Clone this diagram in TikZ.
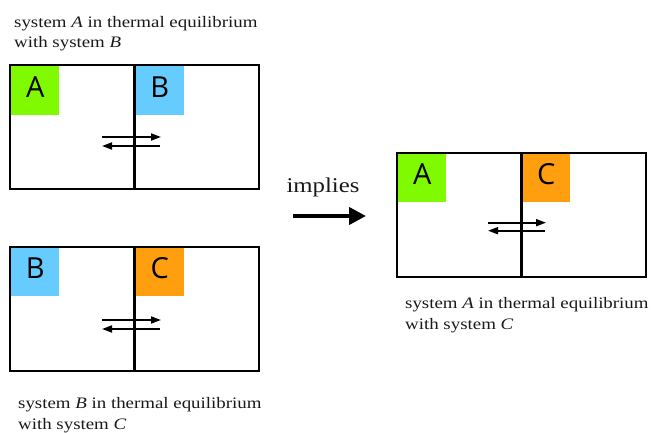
\documentclass[tikz,border=0pt]{standalone}
\usepackage{fontspec}
\setmainfont{Liberation Serif}[FakeStretch=1.18]
\newfontfamily\boxfont{Open Sans}
\usetikzlibrary{arrows.meta}
\definecolor{sysgreen}{RGB}{128,250,0}
\definecolor{sysblue}{RGB}{102,204,255}
\definecolor{sysorange}{RGB}{255,158,14}
\definecolor{txt}{RGB}{25,25,25}
\tikzset{
  sysbox/.style={draw=black, line width=2pt, minimum width=249pt, minimum height=124pt, inner sep=0pt},
  divider/.style={line width=2.4pt},
  tag/.style={minimum width=50pt, minimum height=50pt, inner sep=0pt},
  letter/.style={inner sep=0pt, text depth=0pt, font=\boxfont\fontsize{29}{29}\selectfont, text=black},
  flow/.style={line width=1.8pt, -{Triangle[length=10pt,width=7pt]}},
  caption/.style={font=\fontsize{16}{20.5}\selectfont, text=txt, align=left, anchor=base west, inner sep=0pt},
  bigarrow/.style={line width=4pt, -{Triangle[length=17pt,width=17pt]}}
}
\begin{document}
\begin{tikzpicture}[x=1pt,y=-1pt]
\useasboundingbox (0,0) rectangle (651,433);
% captions (anchored at the baseline of the second line)
\node[caption] (cap1) at (14,47.7) {system \textit{A} in thermal equilibrium\\with system \textit{B}};
\node[caption] (cap2) at (18,429) {system \textit{B} in thermal equilibrium\\with system \textit{C}};
\node[caption] (cap3) at (405,329) {system \textit{A} in thermal equilibrium\\with system \textit{C}};
% box 1
\node[tag, fill=sysgreen, anchor=north west] (a1) at (9,64.5) {};
\node[tag, fill=sysblue, anchor=north west] (b1) at (133.5,64.5) {};
\node[letter] (la1) at ([xshift=1pt,yshift=3pt]a1.center) {A};
\node[letter] (lb1) at ([xshift=1pt,yshift=3pt]b1.center) {B};
\node[sysbox, anchor=north west] (box1) at (9,64.5) {};
\draw[divider] (box1.north) -- (box1.south);
\coordinate (f1s) at (102,137); \coordinate (f1e) at (161,137);
\coordinate (r1s) at (160,146); \coordinate (r1e) at (102,146);
\draw[flow] (f1s) -- (f1e);
\draw[flow] (r1s) -- (r1e);
% box 2
\node[tag, fill=sysblue, anchor=north west] (b2) at (9,246) {};
\node[tag, fill=sysorange, anchor=north west] (c2) at (133.5,246) {};
\node[letter] (lb2) at ([xshift=1pt,yshift=3pt]b2.center) {B};
\node[letter] (lc2) at ([xshift=1pt,yshift=3pt]c2.center) {C};
\node[sysbox, anchor=north west] (box2) at (9,246) {};
\draw[divider] (box2.north) -- (box2.south);
\coordinate (f2s) at (102,320); \coordinate (f2e) at (161,320);
\coordinate (r2s) at (160,329); \coordinate (r2e) at (102,329);
\draw[flow] (f2s) -- (f2e);
\draw[flow] (r2s) -- (r2e);
% box 3
\node[tag, fill=sysgreen, anchor=north west] (a3) at (396,152.3) {};
\node[tag, fill=sysorange, anchor=north west] (c3) at (520,152.3) {};
\node[letter] (la3) at ([xshift=1pt,yshift=3pt]a3.center) {A};
\node[letter] (lc3) at ([xshift=1pt,yshift=3pt]c3.center) {C};
\node[sysbox, anchor=north west] (box3) at (396,152.3) {};
\draw[divider] (box3.north) -- (box3.south);
\coordinate (f3s) at (488,222.7); \coordinate (f3e) at (546,222.7);
\coordinate (r3s) at (545,230.7); \coordinate (r3e) at (488,230.7);
\draw[flow] (f3s) -- (f3e);
\draw[flow] (r3s) -- (r3e);
% implies
\node[font=\fontsize{21}{21}\selectfont, text=txt, inner sep=0pt, anchor=base] (imp) at (323,193) {implies};
\coordinate (ims) at (293,216); \coordinate (ime) at (366,216);
\draw[bigarrow] (ims) -- (ime);
\end{tikzpicture}
\end{document}
